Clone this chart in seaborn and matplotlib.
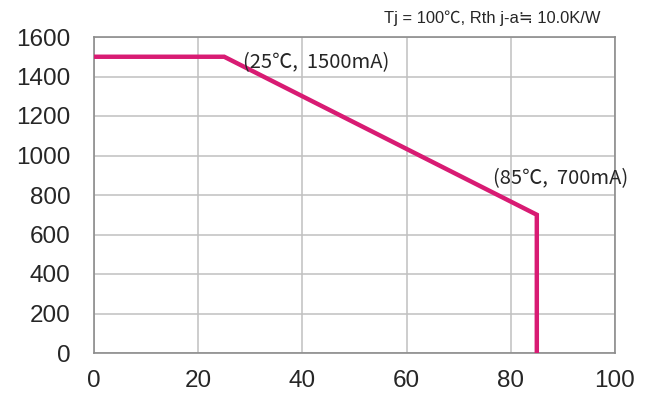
import numpy as np
import pandas as pd
import matplotlib
matplotlib.use("Agg")
import matplotlib.pyplot as plt
import seaborn as sns

# derating curve
temperature = [0, 25, 85, 85]
current = [1500, 1500, 700, 0]
x_ticks = [0, 20, 40, 60, 80, 100]
y_ticks = [0, 200, 400, 600, 800, 1000, 1200, 1400, 1600]
point_labels = ["(25\u2103,  1500mA)", "(85\u2103,  700mA)"]
label_pos = [(28.6, 1470), (76.6, 884)]
title = "Tj = 100\u2103, Rth j-a\u2252 10.0K/W"

sns.set_style("white")
plt.rcParams['font.family'] = ['Liberation Sans', 'Noto Sans CJK KR', 'DejaVu Sans']

df = pd.DataFrame({"temp": temperature, "current": current})

fig = plt.figure(figsize=(6.48, 4.0), dpi=100)
ax = fig.add_axes([0.145, 0.1175, 0.804, 0.79])

sns.lineplot(data=df, x="temp", y="current", sort=False, estimator=None,
             color="#D81B73", linewidth=3.2, ax=ax, zorder=3,
             solid_joinstyle="miter", solid_capstyle="butt")

ax.set_xlim(0, 100)
ax.set_ylim(0, 1600)
ax.set_xticks(x_ticks)
ax.set_yticks(y_ticks)
ax.grid(True, color="#c0c0c0", linewidth=1.1)
for s in ax.spines.values():
    s.set_color("#8c8c8c")
    s.set_linewidth(1.2)
ax.tick_params(direction="in", length=4, color="#8c8c8c", labelsize=17.5)
ax.tick_params(axis="x", pad=12)
ax.tick_params(axis="y", pad=17)
ax.set_xlabel("")
ax.set_ylabel("")

for txt, (px, py) in zip(point_labels, label_pos):
    ax.text(px, py, txt, fontsize=14.5, va="center", ha="left",
            family=['Noto Sans CJK KR', 'DejaVu Sans'], zorder=4)

fig.text(0.926, 0.955, title, ha="right", va="center", fontsize=11.9)

plt.savefig("out.png")
